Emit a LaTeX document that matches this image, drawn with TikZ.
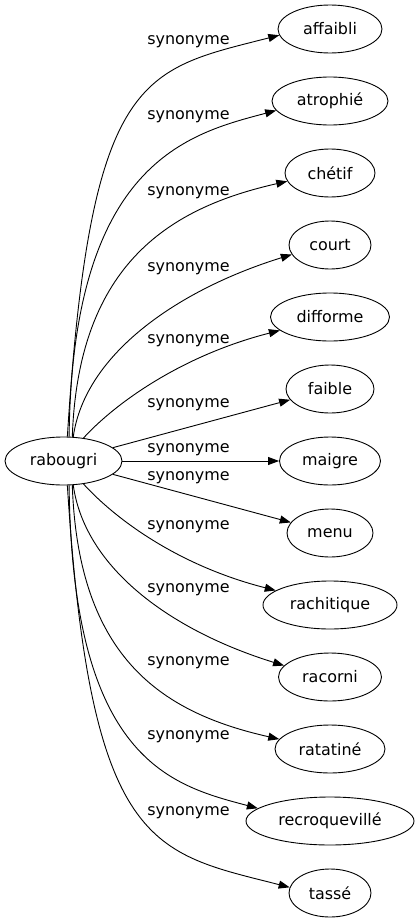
\documentclass[tikz,border=0pt]{standalone}
\usepackage{fontspec}
\setmainfont{DejaVu Sans}
\usetikzlibrary{shapes.geometric,arrows.meta}
\begin{document}
\begin{tikzpicture}[x=1bp,y=1bp,
  word/.style={draw, ellipse, minimum height=48bp, inner sep=0pt, line width=0.9bp, font=\fontsize{16}{19}\selectfont},
  lbl/.style={font=\fontsize{16}{19}\selectfont, inner sep=0pt},
  edge/.style={line width=0.9bp, -{Triangle[length=11bp,width=8bp]}}]
\useasboundingbox (0,0) rectangle (419,-923);
\node[word, minimum width=117bp] (rab) at (63.5,-461) {rabougri};
\node[word, minimum width=104bp] (affaibli) at (330,-29) {affaibli};
\node[word, minimum width=116bp] (atrophie) at (330,-101) {atrophié};
\node[word, minimum width=90bp] (chetif) at (330,-173) {chétif};
\node[word, minimum width=82bp] (court) at (330,-245) {court};
\node[word, minimum width=119bp] (difforme) at (330,-317) {difforme};
\node[word, minimum width=88bp] (faible) at (330,-389) {faible};
\node[word, minimum width=101bp] (maigre) at (330,-461) {maigre};
\node[word, minimum width=86bp] (menu) at (330,-533) {menu};
\node[word, minimum width=134bp] (rachitique) at (330,-605) {rachitique};
\node[word, minimum width=103bp] (racorni) at (330,-677) {racorni};
\node[word, minimum width=110bp] (ratatine) at (330,-749) {ratatiné};
\node[word, minimum width=168bp] (recroq) at (330,-821) {recroquevillé};
\node[word, minimum width=82bp] (tasse) at (330,-893) {tassé};
% labels
\node[lbl] (l1) at (188.5,-42) {synonyme};
\node[lbl] (l2) at (188.5,-117) {synonyme};
\node[lbl] (l3) at (188.5,-193) {synonyme};
\node[lbl] (l4) at (188.5,-269) {synonyme};
\node[lbl] (l5) at (188.5,-341) {synonyme};
\node[lbl] (l6) at (188.5,-405) {synonyme};
\node[lbl] (l7) at (188.5,-450) {synonyme};
\node[lbl] (l8) at (188.5,-478) {synonyme};
\node[lbl] (l9) at (188.5,-527) {synonyme};
\node[lbl] (l10) at (188.5,-590) {synonyme};
\node[lbl] (l11) at (188.5,-663) {synonyme};
\node[lbl] (l12) at (188.5,-737) {synonyme};
\node[lbl] (l13) at (188.5,-813) {synonyme};
% upper edges
\draw[edge] (rab.81.7) .. controls +(23,365) and +(-137,-35) .. (affaibli.187);
\draw[edge] (rab.77) .. controls +(3,275) and +(-87,-23) .. (atrophie.190);
\draw[edge] (rab.70) .. controls +(6,175) and +(-115,-26) .. (chetif.191);
\draw[edge] (rab.68) .. controls +(12,85) and +(-110,-34) .. (court.194);
\draw[edge] (rab.49) .. controls +(32,35) and +(-98,-25) .. (difforme.195);
\draw[edge] (rab) -- (faible);
\draw[edge] (rab) -- (maigre);
% lower edges
\draw[edge] (rab) -- (menu);
\draw[edge] (rab.-49) .. controls +(32,-35) and +(-98,25) .. (rachitique.165);
\draw[edge] (rab.-68) .. controls +(12,-85) and +(-110,34) .. (racorni.166);
\draw[edge] (rab.-70) .. controls +(6,-175) and +(-115,26) .. (ratatine.169);
\draw[edge] (rab.-77) .. controls +(3,-275) and +(-87,23) .. (recroq.170);
\draw[edge] (rab.-81.7) .. controls +(23,-365) and +(-137,35) .. (tasse.172);
\end{tikzpicture}
\end{document}
